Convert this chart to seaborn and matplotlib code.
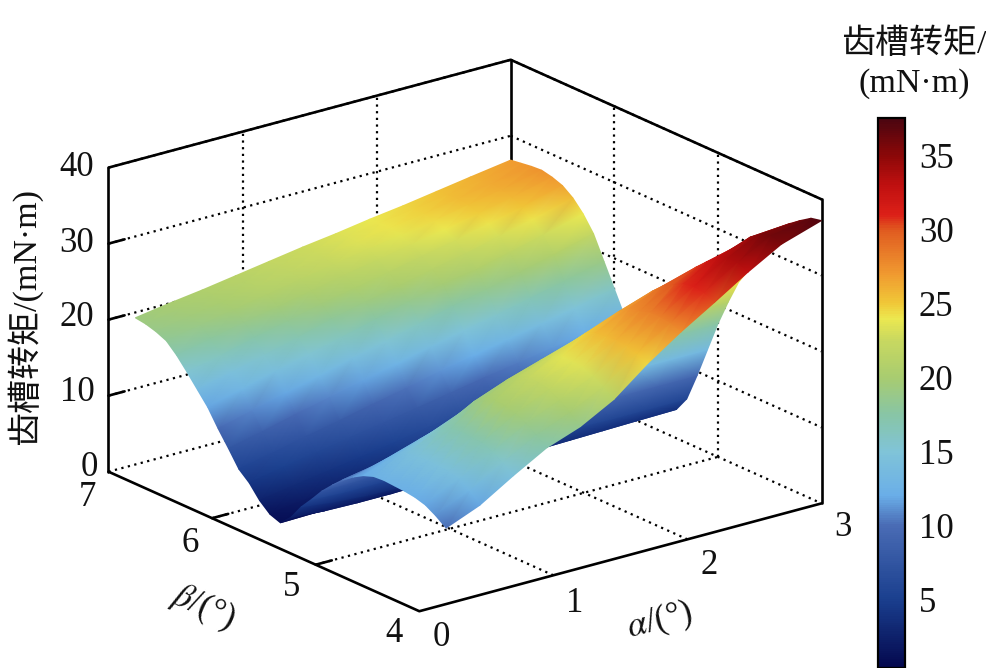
import numpy as np
import matplotlib
matplotlib.use("Agg")
import matplotlib.pyplot as plt
from matplotlib.cm import ScalarMappable
from matplotlib.colors import Normalize
from matplotlib.tri import Triangulation
from mpl_toolkits.mplot3d import proj3d
import seaborn as sns

alpha_values = [0.2, 0.45, 0.7, 0.95, 1.2, 1.45, 1.7, 1.95, 2.2, 2.45, 2.7, 3.0]
beta_values = [4.0, 4.1, 4.2, 4.3, 4.4, 4.5, 4.6, 4.7, 4.8, 4.9, 5.0, 5.1, 5.2, 5.3, 5.4, 5.5,
               5.6, 5.7, 5.8, 5.9, 6.0, 6.1, 6.2, 6.3, 6.4, 6.5, 6.6, 6.7, 6.8, 6.9, 7.0]
torque_rows = [
    [10.0, 11.8, 14.5, 17.0, 18.6, 21.0, 24.5, 27.5, 30.2, 33.0, 35.5, 37.2],
    [11.0, 13.0, 15.6, 18.0, 19.8, 22.0, 25.2, 28.0, 30.8, 33.6, 36.0, 36.9],
    [11.8, 14.0, 16.4, 18.9, 20.8, 22.8, 25.6, 28.2, 31.0, 33.6, 35.6, 36.0],
    [12.2, 14.4, 17.0, 19.6, 21.6, 23.4, 25.8, 28.2, 30.8, 33.0, 34.6, 35.0],
    [12.4, 14.5, 17.1, 20.0, 21.9, 23.5, 25.6, 27.8, 30.0, 31.9, 33.0, 33.2],
    [12.5, 14.6, 17.2, 20.2, 22.0, 23.6, 25.5, 27.5, 29.3, 30.6, 31.2, 31.4],
    [12.6, 14.5, 17.0, 19.8, 21.5, 23.0, 24.8, 26.5, 28.0, 28.8, 29.0, 29.0],
    [12.5, 14.3, 16.4, 18.8, 20.5, 21.9, 23.3, 24.7, 25.9, 26.5, 26.6, 26.5],
    [12.0, 13.5, 15.2, 17.0, 18.5, 19.8, 21.0, 22.2, 23.3, 23.8, 24.1, 24.2],
    [11.2, 12.4, 13.8, 15.2, 16.6, 17.7, 18.8, 19.7, 20.5, 20.9, 21.0, 21.0],
    [10.2, 11.0, 12.0, 13.0, 14.2, 15.1, 16.0, 16.7, 17.2, 17.4, 17.5, 17.5],
    [8.9, 9.4, 10.0, 10.6, 11.5, 12.2, 12.8, 13.2, 13.5, 13.5, 13.5, 13.5],
    [7.5, 7.6, 7.9, 8.1, 8.7, 9.1, 9.4, 9.5, 9.5, 9.5, 9.5, 9.5],
    [5.8, 5.6, 5.6, 5.6, 5.9, 6.0, 6.0, 6.0, 5.9, 5.8, 5.8, 5.8],
    [4.2, 3.7, 3.4, 3.3, 3.4, 3.4, 3.4, 3.4, 3.5, 3.6, 3.7, 3.8],
    [2.2, 1.9, 1.8, 1.8, 1.9, 2.0, 2.2, 2.5, 2.8, 3.2, 3.6, 4.0],
    [0.9, 1.0, 1.2, 1.4, 1.6, 2.0, 2.4, 3.0, 3.5, 4.2, 5.0, 6.0],
    [1.4, 2.0, 2.6, 3.2, 3.8, 4.4, 5.0, 5.6, 6.1, 6.7, 7.3, 8.0],
    [2.6, 3.3, 4.0, 4.7, 5.4, 6.2, 6.9, 7.6, 8.2, 8.9, 9.6, 10.5],
    [4.3, 5.1, 5.9, 6.7, 7.4, 8.2, 9.0, 9.8, 10.5, 11.3, 12.0, 13.0],
    [5.5, 6.4, 7.4, 8.3, 9.3, 10.2, 11.2, 12.1, 13.0, 13.9, 14.8, 16.0],
    [7.6, 8.6, 9.7, 10.7, 11.7, 12.7, 13.8, 14.8, 15.7, 16.7, 17.7, 19.0],
    [9.6, 10.7, 11.8, 12.9, 14.1, 15.2, 16.3, 17.4, 18.4, 19.5, 20.6, 22.0],
    [11.8, 12.9, 14.1, 15.2, 16.3, 17.4, 18.6, 19.7, 20.4, 21.5, 22.6, 24.0],
    [13.5, 14.6, 15.7, 16.8, 18.0, 19.1, 20.0, 21.0, 21.9, 23.0, 24.1, 25.5],
    [15.2, 16.2, 17.3, 18.3, 19.4, 20.3, 21.2, 22.1, 23.0, 24.1, 25.1, 26.5],
    [16.8, 17.7, 18.7, 19.6, 20.5, 21.4, 22.2, 23.1, 23.9, 24.8, 25.7, 27.0],
    [18.1, 18.9, 19.8, 20.6, 21.4, 22.2, 23.0, 23.7, 24.4, 25.3, 26.1, 27.3],
    [18.7, 19.5, 20.2, 21.0, 21.8, 22.5, 23.3, 24.1, 24.7, 25.5, 26.3, 27.2],
    [19.1, 19.8, 20.5, 21.2, 21.9, 22.7, 23.4, 24.1, 24.7, 25.4, 26.1, 27.0],
    [19.3, 20.0, 20.6, 21.3, 22.0, 22.7, 23.3, 24.0, 24.6, 25.3, 26.0, 26.8],
]
alpha_ticks = [0, 1, 2, 3]
beta_ticks = [4, 5, 6, 7]
z_ticks = [0, 10, 20, 30, 40]
bar_ticks = [5, 10, 15, 20, 25, 30, 35]
palette_stops = ["#04084e", "#1a3f8e", "#4a6cb5", "#6aaee8", "#80c4d8", "#88c5a5", "#a8cc70",
                 "#c8d860", "#ece850", "#f0c838", "#f09a30", "#e05a20", "#dc2018", "#c01010",
                 "#8c0808", "#4a0510"]
palette_levels = [0.4, 5, 10, 12, 15, 17.5, 20, 22.5, 24, 25, 27, 30, 31, 33, 35, 37.5]

W, H = 987, 668
sns.set_theme(style="white")
plt.rcParams["font.family"] = ["Liberation Serif", "Noto Sans CJK SC", "DejaVu Sans"]
plt.rcParams["mathtext.fontset"] = "stix"
plt.rcParams["axes.unicode_minus"] = False

# Colormap with stops placed at the levels
vmin, vmax = 0.4, 37.5
fine = np.arange(0, 371) / 370 * (vmax - vmin) + vmin
rgb = np.array(sns.color_palette(palette_stops))
cmap_list = [tuple(np.interp(v, palette_levels, rgb[:, i]) for i in range(3)) for v in fine]
cmap = sns.blend_palette(cmap_list, n_colors=371, as_cmap=True)
norm = Normalize(vmin, vmax)

fig = plt.figure(figsize=(W / 100, H / 100), dpi=100, facecolor="white")
ax = fig.add_axes([0.1, 0.1, 0.6, 0.6 * W / H], projection="3d", computed_zorder=False)
ax.set_proj_type("ortho")
ax.view_init(elev=20.3, azim=-127.7)
ax.set_box_aspect((508, 508, 324))
ax.set_xlim(0, 3, view_margin=0)
ax.set_ylim(4, 7, view_margin=0)
ax.set_zlim(0, 40, view_margin=0)
ax.set_axis_off()
ax.patch.set_alpha(0)


def to_px(a, b, z):
    x2, y2, _ = proj3d.proj_transform(a, b, z, ax.get_proj())
    return ax.transData.transform((x2, y2))


# Fit the box to the frame's corners (front-bottom and back-top) in the picture
target_a = np.array([418.0, H - 611.0])
target_b = np.array([512.0, H - 60.0])
for _ in range(3):
    fig.canvas.draw()
    pa, pb = to_px(0, 4, 0), to_px(3, 7, 40)
    s = np.linalg.norm(target_b - target_a) / np.linalg.norm(pb - pa)
    p = ax.get_position()
    size = p.width * W * s
    c_old = np.array([p.x0 * W + p.width * W / 2, p.y0 * H + p.height * H / 2])
    mid_old = (pa + pb) / 2
    mid_new = (target_a + target_b) / 2
    c_new = mid_new - (mid_old - c_old) * s
    ax.set_position([(c_new[0] - size / 2) / W, (c_new[1] - size / 2) / H, size / W, size / H])
    ax.apply_aspect()
fig.canvas.draw()

line = dict(color="black", lw=1.9, solid_capstyle="round")
dots = dict(color="black", lw=1.6, linestyle=(0, (1.0, 2.0)), zorder=1)

# Dotted grid on the floor and walls
for z in z_ticks:
    ax.plot([0, 3], [7, 7], [z, z], **dots)
    ax.plot([3, 3], [7, 4], [z, z], **dots)
for a in alpha_ticks[1:3]:
    ax.plot([a, a], [4, 7], [0, 0], **dots)
    ax.plot([a, a], [7, 7], [0, 40], **dots)
for b in beta_ticks[1:3]:
    ax.plot([0, 3], [b, b], [0, 0], **dots)
    ax.plot([3, 3], [b, b], [0, 40], **dots)

# Frame
ax.plot([0, 3, 3], [7, 7, 4], [40, 40, 40], zorder=1, **line)
ax.plot([3, 3], [7, 7], [0, 40], zorder=1, **line)
ax.plot([0, 0, 3], [7, 4, 4], [0, 0, 0], zorder=3, **line)
ax.plot([0, 0], [7, 7], [0, 40], zorder=3, **line)
ax.plot([3, 3], [4, 4], [0, 40], zorder=3, **line)
for z in z_ticks[1:4]:
    ax.plot([0, 0.12], [7, 7], [z, z], zorder=3, color="black", lw=1.9)
for b in beta_ticks[1:3]:
    ax.plot([0, 0.12], [b, b], [0, 0], zorder=3, color="black", lw=1.9)

# Surface: the table is projected with the 3D axes' own matrix, then painted back to front
A, B = np.meshgrid(alpha_values, beta_values)
Z = np.array(torque_rows)
px_x, px_y, depth = proj3d.proj_transform(A.ravel(), B.ravel(), Z.ravel(), ax.get_proj())
pts = ax.transData.transform(np.column_stack([px_x, px_y]))
nr, nc = Z.shape
tris = []
for r in range(nr - 1):
    for c in range(nc - 1):
        i0, i1, i2, i3 = r * nc + c, r * nc + c + 1, (r + 1) * nc + c, (r + 1) * nc + c + 1
        tris += [[i0, i1, i3], [i0, i3, i2]]
tris = np.array(tris)
tris = tris[np.argsort(-depth[tris].mean(axis=1))]

ax2 = fig.add_axes([0, 0, 1, 1])
ax2.set_xlim(0, W)
ax2.set_ylim(0, H)
ax2.set_axis_off()
ax2.patch.set_alpha(0)
ax2.tripcolor(Triangulation(pts[:, 0], pts[:, 1], tris), Z.ravel(), shading="gouraud",
              cmap=cmap, norm=norm)


def label(px, py, s, **kw):
    fig.text(px / W, 1 - py / H, s, ha="center", va="center", fontsize=kw.pop("fontsize", 25),
             color="#111111", **kw)


for v, (x, y) in zip(z_ticks, [(89, 467), (77, 393), (77, 318), (77, 243), (77, 168)]):
    label(x, y, str(v))
for v, (x, y) in zip(alpha_ticks, [(441, 637), (575, 603), (709, 566), (843, 528)]):
    label(x, y, str(v))
for v, (x, y) in zip(beta_ticks, [(394, 634), (292, 588), (190, 543), (87, 497)]):
    label(x, y, str(v))
label(24, 316, "齿槽转矩/(mN·m)", rotation=90, fontsize=24.5)
label(660, 621, r"$\alpha$/(°)", rotation=14)
label(203, 607, r"$\beta$/(°)", rotation=-24)
label(914, 44, "齿槽转矩/", fontsize=24.5)
label(914, 84, "(mN·m)", fontsize=24.5)

# Colour bar, running off the bottom of the picture
cax = fig.add_axes([878 / W, 0, 27 / W, 1 - 118 / H])
cbar = fig.colorbar(ScalarMappable(norm=norm, cmap=cmap), cax=cax, ticks=bar_ticks)
cbar.ax.tick_params(direction="in", length=13, width=1.5, pad=10, labelsize=25, colors="#111111",
                    right=True)
cbar.outline.set_edgecolor("black")
cbar.outline.set_linewidth(1.6)

fig.savefig("out.png", dpi=100, facecolor="white")
